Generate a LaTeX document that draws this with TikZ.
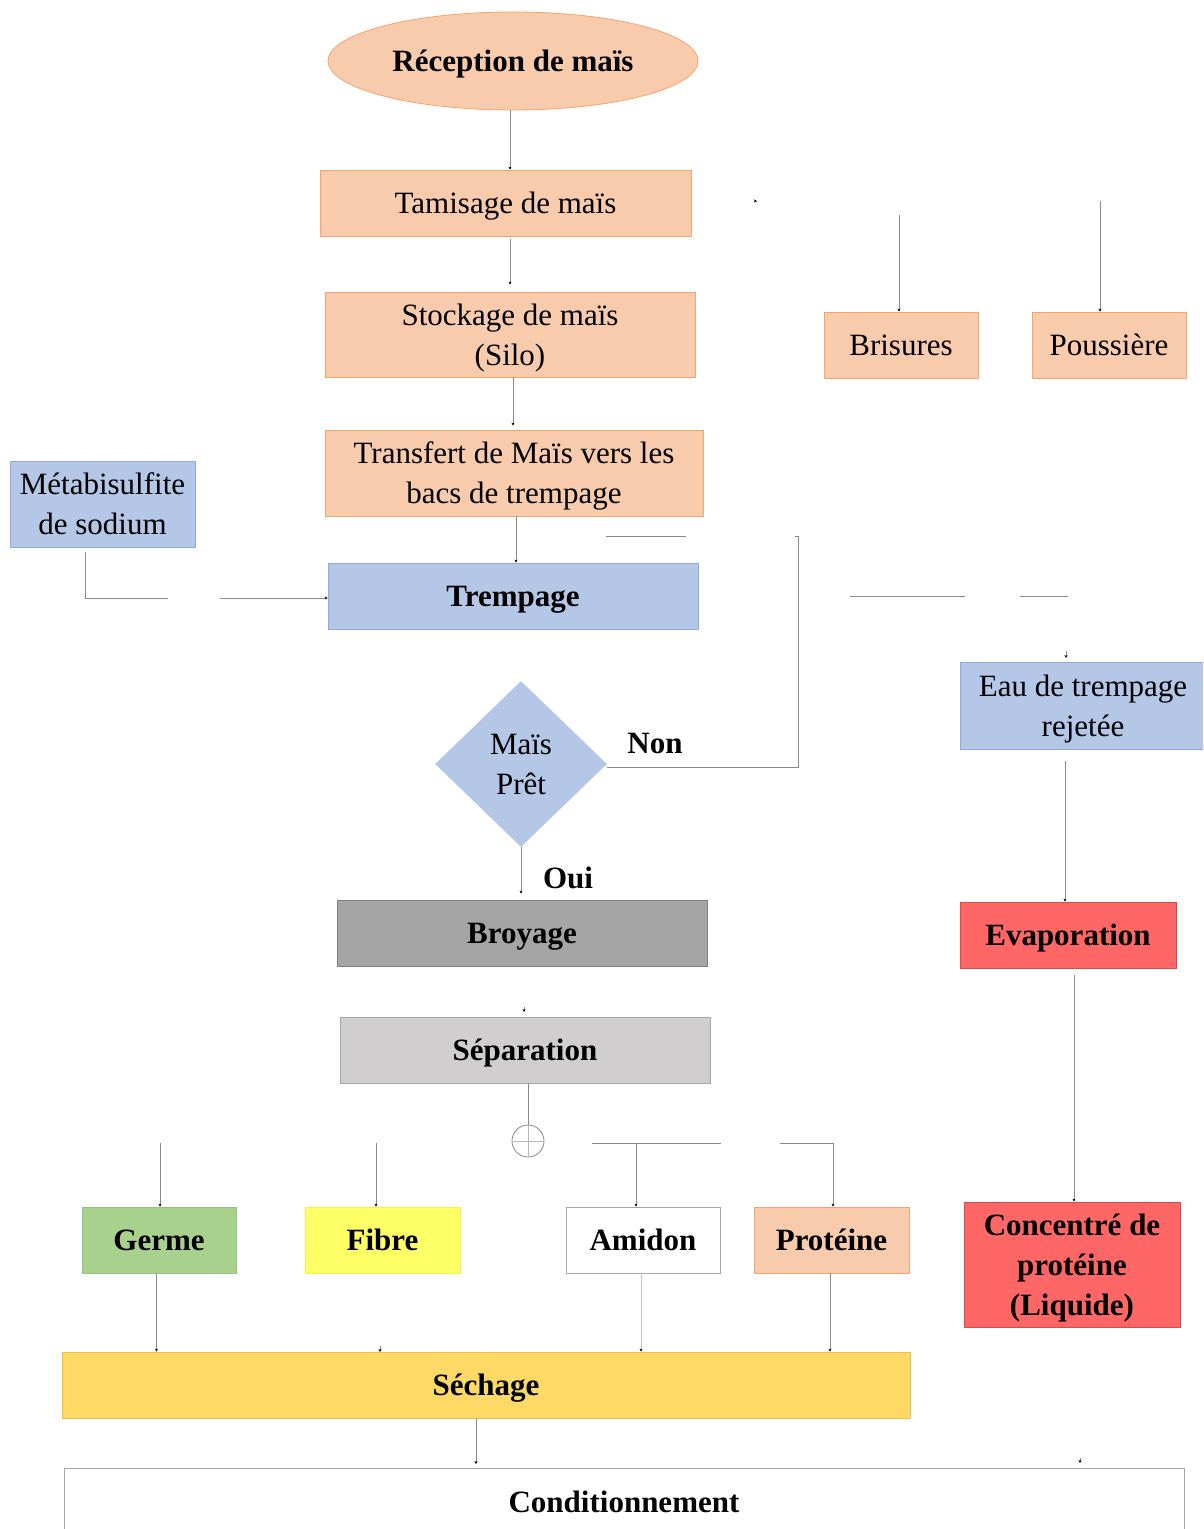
\documentclass[tikz,border=0pt]{standalone}
\usepackage{fontspec}
\setmainfont{Liberation Serif}
\usetikzlibrary{shapes.geometric,arrows.meta}
\definecolor{peach}{HTML}{F8CBAD}
\definecolor{peachline}{HTML}{F4A46A}
\definecolor{bluef}{HTML}{B4C7E7}
\definecolor{blueline}{HTML}{8FAADC}
\definecolor{grayf}{HTML}{A5A5A5}
\definecolor{grayline}{HTML}{7F7F7F}
\definecolor{lgrayf}{HTML}{D0CECE}
\definecolor{lgrayline}{HTML}{A6A6A6}
\definecolor{redf}{HTML}{FF6666}
\definecolor{redline}{HTML}{E04848}
\definecolor{greenf}{HTML}{A9D18E}
\definecolor{greenline}{HTML}{93C47D}
\definecolor{yelf}{HTML}{FFFF66}
\definecolor{yelline}{HTML}{F2F250}
\definecolor{goldf}{HTML}{FFD966}
\definecolor{goldline}{HTML}{E8C24F}
\definecolor{conncol}{HTML}{8A8A8A}
\begin{document}
\begin{tikzpicture}[x=1pt,y=-1pt,
  box/.style={rectangle, draw, inner sep=0pt, align=center, line width=0.8pt,
    text depth=-3pt, font=\fontsize{31}{40}\selectfont},
  bbox/.style={box, font=\fontsize{31}{40}\selectfont\bfseries},
  sz/.style 2 args={minimum width=#1pt, minimum height=#2pt},
  peachc/.style={fill=peach, draw=peachline},
  bluec/.style={fill=bluef, draw=blueline},
  conn/.style={draw=conncol, line width=0.9pt},
  arr/.style={conn, -{Stealth[length=3pt,width=3pt,color=black]}},
  lbl/.style={font=\fontsize{31}{40}\selectfont\bfseries, inner sep=0pt}
]
\useasboundingbox (0,0) rectangle (1203,1529);
\clip (0,0) rectangle (1203,1529);
\fill[white] (0,0) rectangle (1203,1529);

% nodes
\node[bbox, ellipse, peachc, sz={370}{98}] (rec) at (513,61) {Réception de maïs};
\node[box, peachc, sz={371}{66}] (tam) at (505.5,203) {Tamisage de maïs};
\node[box, peachc, sz={370}{85}] (sto) at (510,334.5) {Stockage de maïs\\(Silo)};
\node[box, peachc, sz={378}{86}] (tra) at (514,473) {Transfert de Maïs vers les\\bacs de trempage};
\node[box, peachc, sz={154}{66}] (bri) at (901,345) {Brisures};
\node[box, peachc, sz={154}{66}] (pou) at (1109,345) {Poussière};
\node[box, bluec, sz={185}{86}] (met) at (102.5,504) {Métabisulfite\\de sodium};
\node[bbox, bluec, sz={370}{66}] (tre) at (513,596) {Trempage};
\node[box, diamond, bluec, draw=none, minimum width=172pt, minimum height=166pt, aspect=1] (mp) at (521,764) {Maïs\\Prêt};
\node[box, bluec, sz={246}{87}] (eau) at (1083,705.5) {Eau de trempage\\rejetée};
\node[bbox, fill=grayf, draw=grayline, sz={370}{66}] (bro) at (522,933) {Broyage};
\node[bbox, fill=redf, draw=redline, sz={216}{66}] (eva) at (1068,935) {Evaporation};
\node[bbox, fill=lgrayf, draw=lgrayline, sz={370}{66}] (sep) at (525,1050) {Séparation};
\node[circle, draw=conncol, line width=0.8pt, minimum size=32pt, inner sep=0pt] (jn) at (528,1141) {};
\node[bbox, fill=greenf, draw=greenline, sz={154}{66}] (ger) at (159,1240) {Germe};
\node[bbox, fill=yelf, draw=yelline, sz={155}{66}] (fib) at (382.5,1240) {Fibre};
\node[bbox, fill=white, draw=lgrayline, sz={154}{66}] (ami) at (643,1240) {Amidon};
\node[bbox, peachc, sz={155}{66}] (pro) at (831.5,1240) {Protéine};
\node[bbox, fill=redf, draw=redline, sz={216}{125}] (con) at (1072,1264.5) {Concentré de\\protéine\\(Liquide)};
\node[bbox, fill=goldf, draw=goldline, sz={848}{66}] (sec) at (486,1385) {Séchage};
\node[bbox, fill=white, draw=lgrayline, sz={1120}{66}, anchor=north] (cond) at (624,1468) {Conditionnement};

\node[lbl] (non) at (655,743) {Non};
\node[lbl] (oui) at (568,878) {Oui};

% junction cross
\draw[draw=conncol!60, line width=0.6pt] (jn.north) -- (jn.south);
\draw[draw=conncol!60, line width=0.6pt] (jn.west) -- (jn.east);

% connectors
\draw[arr] ([xshift=-3pt]rec.south) -- ([xshift=4.5pt]tam.north);
\draw[arr, shorten <=3pt, shorten >=7pt] ([xshift=4.5pt]tam.south) -- (sto.north);
\draw[arr, shorten >=4pt] ([xshift=3pt]sto.south) -- ([xshift=-1pt]tra.north);
\draw[arr] ([xshift=2pt]tra.south) -- ([xshift=3pt]tre.north);

\coordinate (t1) at (757,201);
\draw[arr] ([xshift=-3pt]t1) -- (t1);
\coordinate (b1) at (899,215);
\draw[arr] (b1) -- (b1 |- bri.north);
\coordinate (p1) at (1100,201);
\draw[arr] (p1) -- (p1 |- pou.north);

\coordinate (m1) at ([xshift=-17.5pt,yshift=-5pt]met.south);
\coordinate (m2) at (85,598);
\coordinate (m3) at (168,598);
\draw[conn] (m1) -- (m2) -- (m3);
\coordinate (m4) at (220,598);
\draw[arr] (m4) -- (m4 -| tre.west);

\coordinate (nc) at (798,767);
\coordinate (nt) at (798,536);
\draw[conn] (mp.east |- nc) -- (nc) -- (nt) -- ++(-3,0);
\coordinate (r1) at (606,536);
\coordinate (r2) at (686,536);
\draw[conn] (r1) -- (r2);

\coordinate (e1) at (850,596);
\coordinate (e2) at (965,596);
\coordinate (e3) at (1020,596);
\coordinate (e4) at (1068,596);
\draw[conn] (e1) -- (e2);
\draw[conn] (e3) -- (e4);
\coordinate (e5) at (1066,651);
\draw[arr] (e5) -- (1066,658);

\coordinate (w1) at ([xshift=-18pt,yshift=-12pt]eau.south);
\draw[arr] (w1) -- (w1 |- eva.north);
\coordinate (v1) at ([xshift=6pt,yshift=-7pt]eva.south);
\draw[arr] (v1) -- (v1 |- con.north);

\draw[arr, shorten >=6pt] (mp.south) -- ([xshift=-1pt]bro.north);
\coordinate (k1) at (524,1007);
\draw[arr] (k1) -- (524,1012);

\draw[conn] ([xshift=3pt]sep.south) -- (jn.north);

\coordinate (h1) at (592,1143);
\coordinate (h2) at (721,1143);
\draw[conn] (h1) -- (h2);
\coordinate (hA) at (636,1143);
\draw[arr] (hA) -- (hA |- ami.north);
\coordinate (h3) at (780,1143);
\coordinate (h4) at (833,1143);
\draw[arr] (h3) -- (h4) -- (h4 |- pro.north);
\coordinate (hG) at (160,1143);
\draw[arr] (hG) -- (hG |- ger.north);
\coordinate (hF) at (376,1143);
\draw[arr] (hF) -- (hF |- fib.north);

\coordinate (g1) at ([xshift=-2.5pt]ger.south);
\draw[arr] (g1) -- (g1 |- sec.north);
\coordinate (f1) at (380,1346);
\draw[arr] (f1) -- (380,1352);
\coordinate (a1) at ([xshift=-2pt]ami.south);
\draw[arr, draw=conncol!50] (a1) -- (a1 |- sec.north);
\coordinate (q1) at ([xshift=-1.5pt]pro.south);
\draw[arr] (q1) -- (q1 |- sec.north);

\coordinate (s1) at ([xshift=-10pt]sec.south);
\draw[arr, shorten >=4pt] (s1) -- (s1 |- cond.north);
\coordinate (c1) at (1080,1458);
\draw[arr] (c1) -- (1080,1463);
\end{tikzpicture}
\end{document}
